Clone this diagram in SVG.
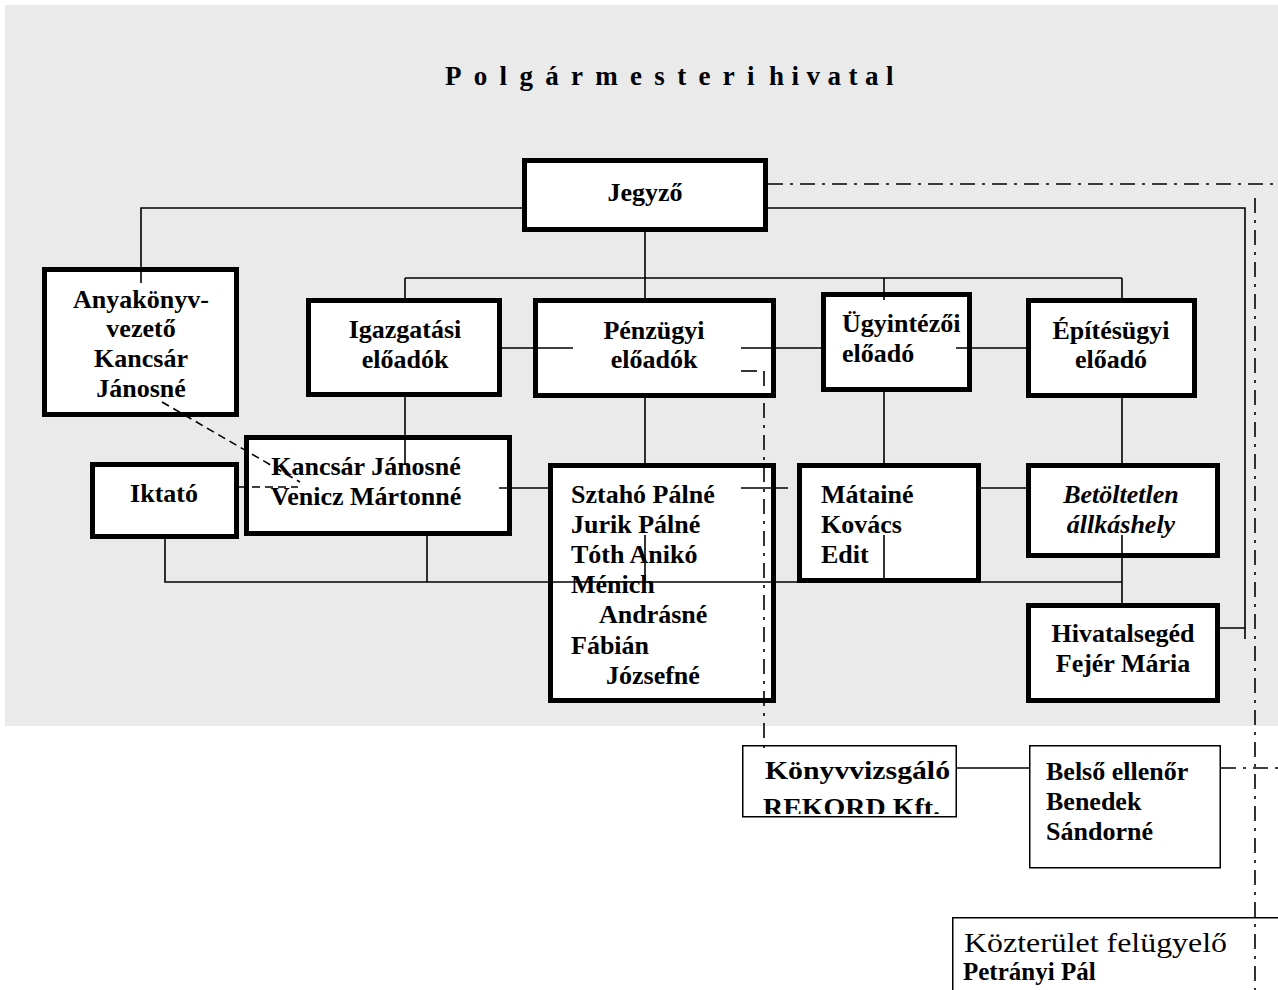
<svg xmlns="http://www.w3.org/2000/svg" width="1278" height="990" viewBox="0 0 1278 990">
<style>
.bg{fill:#eaeaea}
.tb{fill:#fff;stroke:#000;stroke-width:5}
.nb{fill:#fff;stroke:#000;stroke-width:1.5}
.ln{fill:none;stroke:#000;stroke-width:1.6}
.dd{fill:none;stroke:#000;stroke-width:1.6;stroke-dasharray:15 7 3 7}
.ds{fill:none;stroke:#000;stroke-width:1.6;stroke-dasharray:8 5}
text{font-family:"Liberation Serif","Times New Roman",serif;font-weight:bold;font-size:26px;fill:#000}
.c{text-anchor:middle}
.it{font-style:italic}
.rg{font-weight:normal}
</style>
<defs>
<clipPath id="clipK"><rect x="742" y="745" width="215" height="69"/></clipPath>
</defs>
<rect class="bg" x="5" y="5" width="1273" height="721"/>
<text id="title" y="85" style="font-size:27px"><tspan x="445" style="letter-spacing:12.3px">Polgármesteri</tspan><tspan x="769" style="letter-spacing:7.5px">hivatal</tspan></text>

<g id="node-jegyzo"><rect class="tb" x="524.5" y="160.5" width="241" height="69"/><text class="c" x="645" y="201">Jegyző</text></g>
<g id="node-anyakonyv"><rect class="tb" x="44.5" y="269.5" width="192" height="145"/>
<text class="c" x="141" y="308">Anyakönyv-</text><text class="c" x="141" y="337">vezető</text><text class="c" x="141" y="367">Kancsár</text><text class="c" x="141" y="397">Jánosné</text></g>
<g id="node-igazgatasi"><rect class="tb" x="308.5" y="300.5" width="191" height="94"/><text class="c" x="405" y="338">Igazgatási</text><text class="c" x="405" y="368">előadók</text></g>
<g id="node-penzugyi"><rect class="tb" x="535.5" y="300.5" width="238" height="95"/><text class="c" x="654" y="339">Pénzügyi</text><text class="c" x="654" y="368">előadók</text></g>
<g id="node-ugyintezoi"><rect class="tb" x="823.5" y="294.5" width="146" height="95"/><text x="842" y="332">Ügyintézői</text><text x="842" y="362">előadó</text></g>
<g id="node-epitesugyi"><rect class="tb" x="1028.5" y="300.5" width="166" height="95"/><text class="c" x="1111" y="339">Építésügyi</text><text class="c" x="1111" y="368">előadó</text></g>
<g id="node-iktato"><rect class="tb" x="92.5" y="464.5" width="144" height="72"/><text class="c" x="164" y="502">Iktató</text></g>
<g id="node-kancsar"><rect class="tb" x="246.5" y="437.5" width="263" height="96"/><text class="c" x="366" y="475">Kancsár Jánosné</text><text class="c" x="366" y="505">Venicz Mártonné</text></g>
<g id="node-sztaho"><rect class="tb" x="550.5" y="465.5" width="223" height="235"/>
<text x="571" y="503">Sztahó Pálné</text><text x="571" y="533">Jurik Pálné</text><text x="571" y="563">Tóth Anikó</text><text x="571" y="593">Ménich</text><text x="599" y="623">Andrásné</text><text x="571" y="654">Fábián</text><text x="606" y="684">Józsefné</text></g>
<g id="node-mataine"><rect class="tb" x="799.5" y="465.5" width="179" height="115"/><text x="821" y="503">Mátainé</text><text x="821" y="533">Kovács</text><text x="821" y="563">Edit</text></g>
<g id="node-betoltetlen"><rect class="tb" x="1028.5" y="465.5" width="189" height="90"/><text class="c it" x="1121" y="503">Betöltetlen</text><text class="c it" x="1121" y="533">állkáshely</text></g>
<g id="node-hivatalseged"><rect class="tb" x="1028.5" y="605.5" width="189" height="95"/><text class="c" x="1123" y="642">Hivatalsegéd</text><text class="c" x="1123" y="672">Fejér Mária</text></g>
<g id="node-konyvvizsgalo"><rect class="nb" x="742.75" y="745.75" width="213.5" height="71"/>
<text x="765" y="779" textLength="185" lengthAdjust="spacingAndGlyphs">Könyvvizsgáló</text>
<text x="763" y="816" clip-path="url(#clipK)" textLength="177" lengthAdjust="spacingAndGlyphs">REKORD Kft.</text></g>
<g id="node-belso"><rect class="nb" x="1029.75" y="745.75" width="190.5" height="122"/><text x="1046" y="780">Belső ellenőr</text><text x="1046" y="810">Benedek</text><text x="1046" y="840">Sándorné</text></g>
<g id="node-kozterulet"><path class="nb" d="M952.75,990 V917.75 H1278" style="fill:#fff"/>
<text class="rg" x="964" y="952" style="font-size:27px" textLength="263" lengthAdjust="spacingAndGlyphs">Közterület felügyelő</text>
<text x="963" y="980" style="font-size:25px">Petrányi Pál</text></g>

<g id="connectors">
<path class="ln" d="M524,208 H141 V283"/>
<path class="ln" d="M645,232 V278 M405,278 H1122 M405,278 V300 M645,278 V300 M884,278 V300 M1122,278 V300"/>
<path class="ln" d="M502,348 H573 M741,348 H821 M956,348 H1028"/>
<path class="ln" d="M741,371 H757"/>
<path class="ln" d="M405,397 V465"/>
<path class="ln" d="M645,398 V465 M645,535 V582"/>
<path class="ln" d="M884,392 V465 M884,535 V582"/>
<path class="ln" d="M1122,398 V465 M1122,535 V605"/>
<path class="ln" d="M165,539 V582 H1122"/>
<path class="ln" d="M427,536 V582"/>
<path class="ln" d="M499,488 H550 M741,488 H788 M981,488 H1028"/>
<path class="ln" d="M768,208 H1245 V639 M1220,628 H1245"/>
<path class="ln" d="M957,768 H1029"/>
<path class="dd" d="M768,184 H1278"/>
<path class="dd" d="M1255,198 V990"/>
<path class="dd" d="M764,371 V755"/>
<path class="dd" d="M1221,768 H1278"/>
<path class="ds" d="M162,402 L300,482"/>
<path class="ds" d="M239,487 H298"/>
</g>
</svg>
